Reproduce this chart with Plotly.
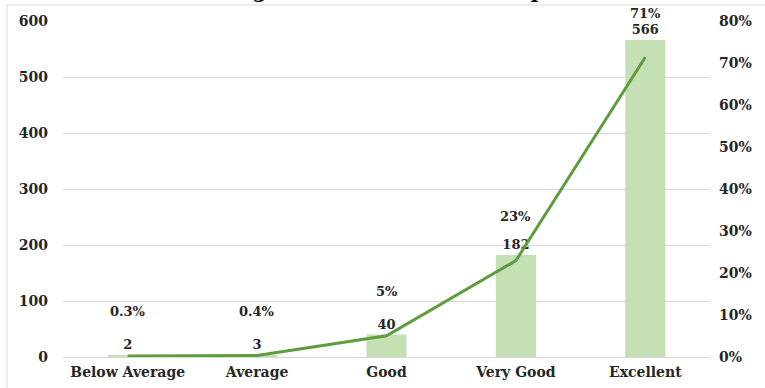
import plotly.graph_objects as go

# Ratings and number of responses
categories = ["Below Average", "Average", "Good", "Very Good", "Excellent"]
counts = [2, 3, 40, 182, 566]

# Axis ticks
count_ticks = [0, 100, 200, 300, 400, 500, 600]
share_ticks = [0.0, 0.1, 0.2, 0.3, 0.4, 0.5, 0.6, 0.7, 0.8]

title_text = "Rating of the Overall Workshop"

total = sum(counts)
shares = [c / total for c in counts]
share_labels = [f"{s * 100:.1f}%" if s < 0.01 else f"{s * 100:.0f}%" for s in shares]

FONT = "DejaVu Serif"
TEXT = "#262626"
BAR = "#c5e0b4"
LINE = "#5e9c3e"
GRID = "#d9d9d9"

W, H = 765, 388
ML, MR, MT, MB = 63, 55, 21, 31
PW, PH = W - ML - MR, H - MT - MB


def px_x(px):
    return (px - ML) / PW


def px_y(py):
    return (H - MB - py) / PH


fig = go.Figure()

fig.add_trace(go.Bar(
    x=categories, y=counts, marker_color=BAR, marker_line_width=0,
    texttemplate="%{y}", textposition="outside", cliponaxis=False,
    textfont=dict(family=FONT, size=13, color=TEXT, weight="bold"),
    showlegend=False, hoverinfo="skip",
))

fig.add_trace(go.Scatter(
    x=categories, y=shares, yaxis="y2", mode="lines",
    line=dict(color=LINE, width=3), showlegend=False, hoverinfo="skip",
))

annotations = []
for cat, s, lab in zip(categories, shares, share_labels):
    annotations.append(dict(
        x=cat, y=s, xref="x", yref="y2", text=lab, showarrow=False,
        yshift=44, font=dict(family=FONT, size=13, color=TEXT, weight="bold"),
    ))

# Chart title, set high in the frame
annotations.append(dict(
    x=px_x(368), y=px_y(5), xref="paper", yref="paper", xanchor="center",
    yanchor="bottom", text=title_text, showarrow=False,
    font=dict(family=FONT, size=20, color="#000000", weight="bold"),
))

fig.update_layout(
    width=W, height=H,
    margin=dict(l=ML, r=MR, t=MT, b=MB, autoexpand=False),
    paper_bgcolor="white", plot_bgcolor="white",
    bargap=0.69,
    xaxis=dict(
        range=[-0.5, 4.5], showgrid=False, showline=False, ticks="",
        automargin=False,
        tickfont=dict(family=FONT, size=14, color=TEXT, weight="bold"),
        ticklabelstandoff=5,
    ),
    yaxis=dict(
        range=[0, 600], tickvals=count_ticks, showgrid=True, gridcolor=GRID,
        gridwidth=1, zeroline=True, zerolinecolor=GRID, zerolinewidth=1,
        showline=False, ticks="", ticklabelstandoff=14, automargin=False,
        tickfont=dict(family=FONT, size=14, color=TEXT, weight="bold"),
    ),
    yaxis2=dict(
        range=[0, 0.8], tickvals=share_ticks, tickformat=".0%", overlaying="y",
        side="right", showgrid=False, zeroline=False, showline=False, ticks="",
        ticklabelstandoff=8, automargin=False,
        tickfont=dict(family=FONT, size=14, color=TEXT, weight="bold"),
    ),
    annotations=annotations,
    shapes=[dict(
        type="rect", xref="paper", yref="paper",
        x0=px_x(7), y0=px_y(H + 10), x1=px_x(W + 10), y1=px_y(5),
        line=dict(color=GRID, width=1), fillcolor="rgba(0,0,0,0)", layer="below",
    )],
)

fig.write_html("out.html")
